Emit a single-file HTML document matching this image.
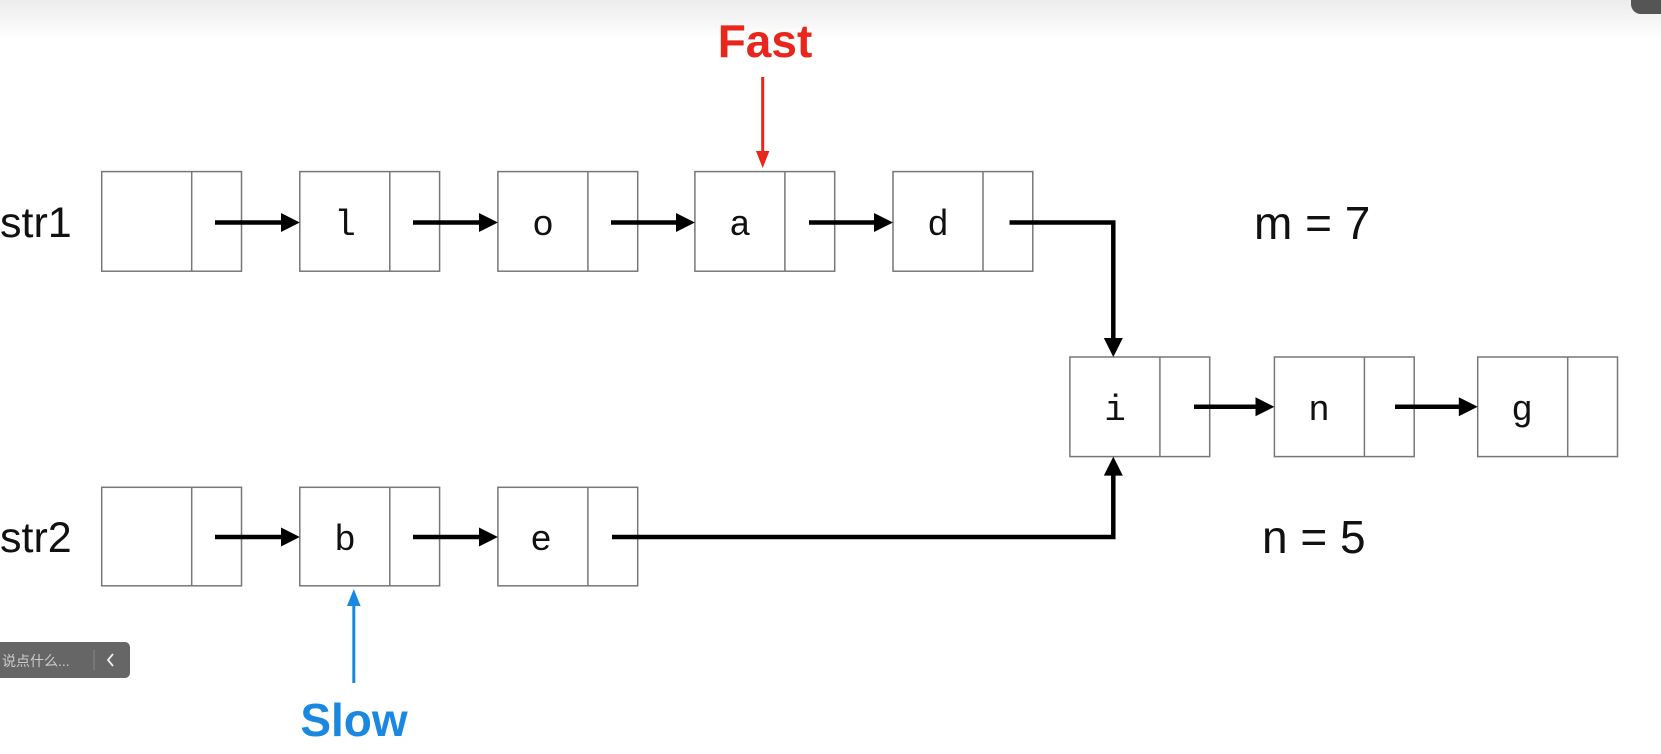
<!DOCTYPE html>
<html><head><meta charset="utf-8"><style>
body{margin:0;width:1661px;height:754px;overflow:hidden;background:#fff;position:relative}
svg{position:absolute;left:0;top:0}
</style></head><body>
<svg width="1661" height="754" viewBox="0 0 1661 754" xmlns="http://www.w3.org/2000/svg">
<defs>
<linearGradient id="tg" x1="0" y1="0" x2="0" y2="1"><stop offset="0" stop-color="#ececec"/><stop offset="1" stop-color="#ffffff"/></linearGradient>
</defs>
<rect x="0" y="0" width="1661" height="40" fill="url(#tg)"/>
<rect x="1631" y="-14" width="40" height="28" rx="10" fill="#555"/>
<g fill="none" stroke="#777" stroke-width="1.5">
<rect x="101.7" y="171.6" width="139.8" height="99.6"/><line x1="191.7" y1="171.6" x2="191.7" y2="271.2"/>
<rect x="299.8" y="171.6" width="139.8" height="99.6"/><line x1="389.8" y1="171.6" x2="389.8" y2="271.2"/>
<rect x="497.9" y="171.6" width="139.8" height="99.6"/><line x1="587.9" y1="171.6" x2="587.9" y2="271.2"/>
<rect x="694.9" y="171.6" width="139.8" height="99.6"/><line x1="784.9" y1="171.6" x2="784.9" y2="271.2"/>
<rect x="893" y="171.6" width="139.8" height="99.6"/><line x1="983" y1="171.6" x2="983" y2="271.2"/>
<rect x="1069.9" y="357" width="139.8" height="99.6"/><line x1="1159.9" y1="357" x2="1159.9" y2="456.6"/>
<rect x="1274.4" y="357" width="139.8" height="99.6"/><line x1="1364.4" y1="357" x2="1364.4" y2="456.6"/>
<rect x="1477.7" y="357" width="139.8" height="99.6"/><line x1="1567.7" y1="357" x2="1567.7" y2="456.6"/>
<rect x="101.7" y="487.3" width="139.8" height="98.5"/><line x1="191.7" y1="487.3" x2="191.7" y2="585.8"/>
<rect x="299.8" y="487.3" width="139.8" height="98.5"/><line x1="389.8" y1="487.3" x2="389.8" y2="585.8"/>
<rect x="497.9" y="487.3" width="139.8" height="98.5"/><line x1="587.9" y1="487.3" x2="587.9" y2="585.8"/>
</g>
<g stroke="#000" stroke-width="4.5" fill="none">
<line x1="215" y1="222.5" x2="284" y2="222.5"/>
<line x1="413" y1="222.5" x2="482" y2="222.5"/>
<line x1="611" y1="222.5" x2="679" y2="222.5"/>
<line x1="809" y1="222.5" x2="877" y2="222.5"/>
<polyline points="1009.5,222.5 1113.3,222.5 1113.3,340"/>
<line x1="215" y1="537" x2="284" y2="537"/>
<line x1="413" y1="537" x2="482" y2="537"/>
<polyline points="612,537 1113.3,537 1113.3,474"/>
<line x1="1194" y1="406.8" x2="1258" y2="406.8"/>
<line x1="1395" y1="406.8" x2="1461" y2="406.8"/>
</g>
<g fill="#000">
<polygon points="299.8,222.5 281,213 281,232"/>
<polygon points="497.9,222.5 479,213 479,232"/>
<polygon points="694.9,222.5 676,213 676,232"/>
<polygon points="893,222.5 874,213 874,232"/>
<polygon points="1113.3,357 1103.8,338 1122.8,338"/>
<polygon points="299.8,537 281,527.5 281,546.5"/>
<polygon points="497.9,537 479,527.5 479,546.5"/>
<polygon points="1113.3,456.6 1103.8,475.6 1122.8,475.6"/>
<polygon points="1274.4,406.8 1255.5,397.3 1255.5,416.3"/>
<polygon points="1477.7,406.8 1458.8,397.3 1458.8,416.3"/>
</g>
<line x1="762.7" y1="77" x2="762.7" y2="152" stroke="#e8261b" stroke-width="3"/>
<polygon points="762.7,168 756,151 769.4,151" fill="#e8261b"/>
<line x1="353.8" y1="683" x2="353.8" y2="605" stroke="#1a88e0" stroke-width="3"/>
<polygon points="353.8,589 347,606 360.6,606" fill="#1a88e0"/>
<g font-family="Liberation Mono, monospace" font-size="36" fill="#111" text-anchor="middle">
<text x="345" y="235">l</text><text x="543" y="235">o</text><text x="740" y="235">a</text><text x="938" y="235">d</text>
<text x="1115" y="420">i</text><text x="1319" y="420">n</text><text x="1522" y="420">g</text>
<text x="345" y="550">b</text><text x="541" y="550">e</text>
</g>
<g font-family="Liberation Sans, sans-serif" font-size="43" fill="#111">
<text x="0" y="237">str1</text><text x="0" y="552">str2</text>
</g>
<g font-family="Liberation Sans, sans-serif" font-size="46" fill="#111">
<text x="1254" y="239">m = 7</text><text x="1262" y="553">n = 5</text>
</g>
<text x="765" y="57" font-family="Liberation Sans, sans-serif" font-weight="bold" font-size="46" fill="#e8261b" text-anchor="middle">Fast</text>
<text x="354" y="736" font-family="Liberation Sans, sans-serif" font-weight="bold" font-size="46" fill="#1a88e0" text-anchor="middle">Slow</text>
<rect x="-10" y="642" width="140" height="36" rx="5" fill="#666"/>
<line x1="94" y1="650" x2="94" y2="670" stroke="#888" stroke-width="1"/>
<text x="2" y="666" font-family="Liberation Sans, 'Noto Sans CJK SC', sans-serif" font-size="14" fill="#ccc">说点什么...</text>
<polyline points="113,654 108,660 113,666" fill="none" stroke="#eee" stroke-width="1.8"/>
</svg>
</body></html>
